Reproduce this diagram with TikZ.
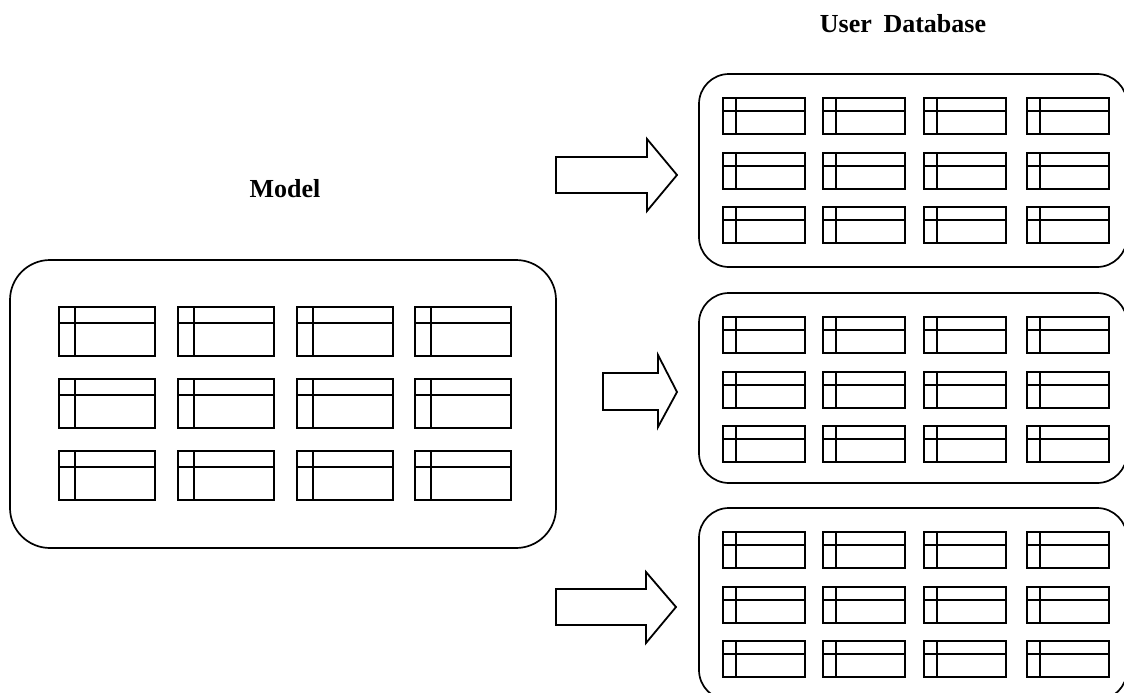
\documentclass[tikz,border=0pt]{standalone}
\usepackage{fontspec}
\setmainfont{Liberation Serif}
\begin{document}
\begin{tikzpicture}[x=1pt,y=-1pt,
  frame/.style={draw=black, line width=1.7pt, rounded corners=#1},
  tbl/.style={draw=black, line width=1.9pt, rectangle, inner sep=0pt, outer sep=0pt},
  tblline/.style={draw=black, line width=1.9pt},
  blockarrow/.style={draw=black, line width=1.8pt, fill=white, line join=miter},
  title/.style={font=\fontsize{26}{30}\selectfont\bfseries, anchor=base, inner sep=0pt}]

\useasboundingbox (0,0) rectangle (1124,693);
\clip (0,0) rectangle (1124,693);

% a table icon: name, left, top, width, height, divider offset
\newcommand\dbtable[6]{%
  \node[tbl, minimum width=#4pt, minimum height=#5pt, anchor=north west] (#1) at (#2,#3) {};
  \draw[tblline] ([xshift=#6pt]#1.north west) -- ([xshift=#6pt]#1.south west);
  \draw[tblline] ([yshift=-#6pt]#1.north west) -- ([yshift=-#6pt]#1.north east);
}

% block arrow: left, shaft top, shaft bottom, head x, head top, head bottom, tip x, tip y
\newcommand\blockarr[8]{%
  \draw[blockarrow] (#1,#2) -- (#4,#2) -- (#4,#5) -- (#7,#8) -- (#4,#6) -- (#4,#3) -- (#1,#3) -- cycle;
}

% titles
\node[title] (model) at (285,197) {Model};
\node[title] (userdb) at (903,33) {User\hspace{0.45em}Database};

% model container
\draw[frame=40pt] (10,260) rectangle (556,548);

\foreach \c/\x in {1/59,2/178,3/297,4/415}{
  \foreach \r/\y in {1/307,2/379,3/451}{
    \dbtable{m\r\c}{\x}{\y}{96}{49}{16}
  }
}

% user database containers
\foreach \k/\top/\h in {1/74/193,2/293/190,3/508/192}{
  \draw[frame=30pt] (699,\top) rectangle (1127,\top+\h);
  \foreach \c/\x in {1/723,2/823,3/924,4/1027}{
    \foreach \r/\dy in {1/24,2/79,3/133}{
      \pgfmathsetmacro\yy{\top+\dy}
      \dbtable{u\k\r\c}{\x}{\yy}{82}{36}{13}
    }
  }
}

% arrows
\blockarr{556}{157}{193}{647}{139}{211}{677}{175}
\blockarr{603}{373}{410}{658}{355}{427}{677}{392}
\blockarr{556}{589}{625}{646}{572}{643}{676}{607}

\end{tikzpicture}
\end{document}
